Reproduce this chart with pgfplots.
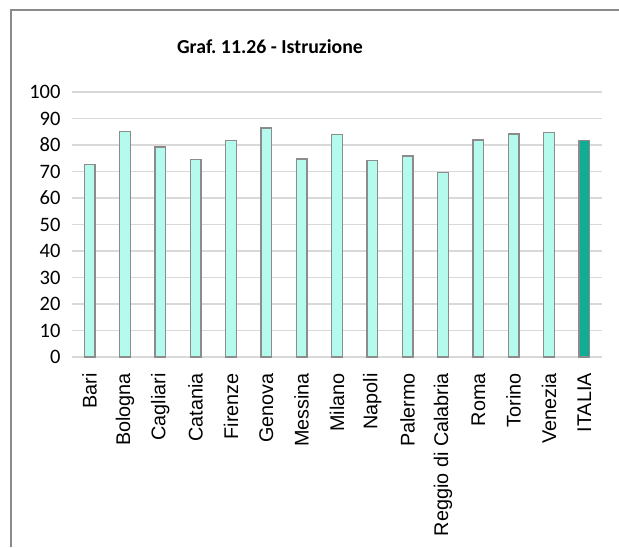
\documentclass[border=0pt]{standalone}
\usepackage{pgfplots}
\pgfplotsset{compat=1.18}
\usepackage{fontspec}
\setmainfont{Carlito}
\newfontfamily\arialfont{Liberation Sans}
\definecolor{barlight}{RGB}{180,250,237}
\definecolor{bardark}{RGB}{16,173,148}
\definecolor{baredge}{RGB}{140,140,140}
\definecolor{gridgray}{RGB}{217,217,217}
\definecolor{framegray}{RGB}{138,138,138}
\begin{document}
\begin{tikzpicture}
\path[use as bounding box] (0,0) rectangle (619pt,547pt);
\draw[framegray, line width=2pt] (11pt,0) -- (11pt,537pt) -- (619pt,537pt);
\node[font=\fontsize{19.8}{23}\selectfont\bfseries] at (270pt,500pt) {Graf.\ 11.26 - Istruzione};
\begin{axis}[
    at={(72pt,190pt)}, anchor=south west,
    width=530pt, height=265pt, scale only axis,
    ybar, bar width=10.5pt, bar shift=0pt,
    xmin=-0.5, xmax=14.5, ymin=0, ymax=100,
    xtick={0,1,...,14},
    xticklabels={Bari, Bologna, Cagliari, Catania, Firenze, Genova, Messina, Milano, Napoli, Palermo, Reggio di Calabria, Roma, Torino, Venezia, ITALIA},
    ytick={0,10,...,100},
    axis x line*=bottom, axis y line*=left,
    x axis line style={gridgray, line width=1.5pt, -},
    y axis line style={draw=none},
    major tick length=0pt,
    ymajorgrids=true,
    grid style={gridgray, line width=1.3pt},
    /pgf/number format/assume math mode=true,
    yticklabel style={font=\fontsize{20.5}{24}\selectfont, anchor=east, xshift=-8pt},
    xticklabel style={font=\arialfont\fontsize{19.8}{22}\selectfont, yshift=-16pt, rotate=90, anchor=east, inner sep=0pt},
    clip=false,
]
\addplot[fill=barlight, draw=baredge, line width=1.3pt] coordinates {
(0,72.7) (1,85.0) (2,79.2) (3,74.5) (4,81.8) (5,86.4) (6,74.7) (7,83.9)
(8,74.2) (9,75.8) (10,69.7) (11,81.9) (12,84.2) (13,84.6)};
\addplot[fill=bardark, draw=baredge, line width=1.3pt] coordinates {(14,81.6)};
\end{axis}
\end{tikzpicture}
\end{document}
